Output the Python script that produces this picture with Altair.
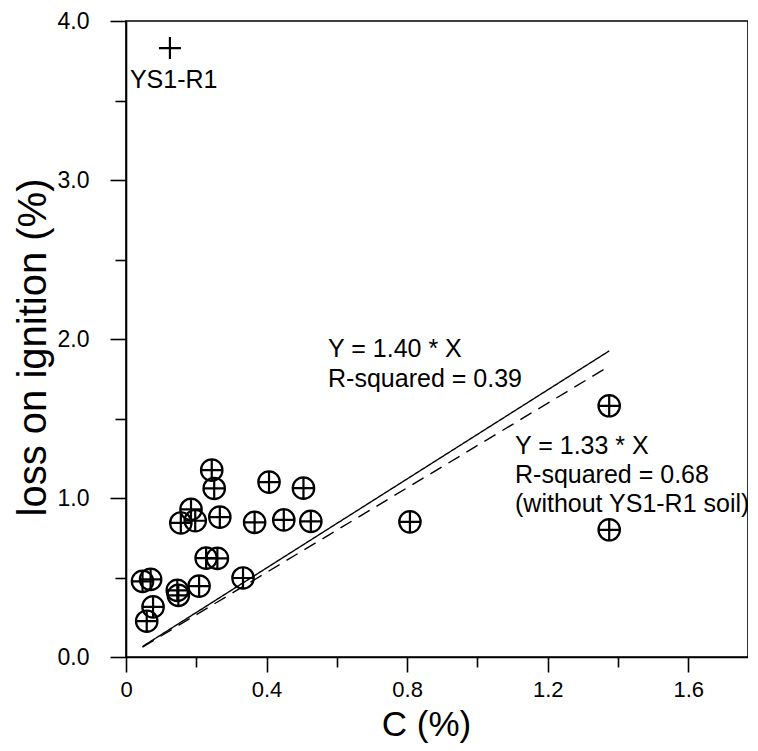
import altair as alt
import pandas as pd

# carbon (%) and loss on ignition (%) of soils
c_pct = [0.244, 0.251, 0.407, 0.505, 0.185, 0.156, 0.197, 0.267, 0.366, 0.449,
         0.526, 0.228, 0.260, 0.333, 0.047, 0.070, 0.146, 0.149, 0.208, 0.077,
         0.059, 0.808, 1.375, 1.375]
loi_pct = [1.175, 1.06, 1.10, 1.062, 0.928, 0.843, 0.857, 0.88, 0.847, 0.862,
           0.853, 0.622, 0.620, 0.497, 0.476, 0.488, 0.419, 0.388, 0.446, 0.315,
           0.225, 0.85, 1.58, 0.80]

# outlier soil
out_c = [0.125]
out_loi = [3.83]
out_name = ["YS1-R1"]

# regression slopes (through origin)
fit_names = ["with YS1-R1", "without YS1-R1"]
fit_slopes = [1.40, 1.33]

# annotation texts (anchor in data units)
ann_text = ["Y = 1.40 * X", "R-squared = 0.39",
            "Y = 1.33 * X", "R-squared = 0.68", "(without YS1-R1 soil)"]
ann_x = [0.575, 0.575, 1.107, 1.107, 1.107]
ann_y = [1.934, 1.746, 1.327, 1.146, 0.964]

FONT = "Liberation Sans"

pts = pd.DataFrame({"c": c_pct, "loi": loi_pct})
out = pd.DataFrame({"c": out_c, "loi": out_loi, "name": out_name})
xmin, xmax = min(c_pct), max(c_pct)
lines = pd.DataFrame({
    "fit": [f for f in fit_names for _ in range(2)],
    "c": [xmin, xmax] * len(fit_names),
    "loi": [s * v for s in fit_slopes for v in (xmin, xmax)],
})
ann = pd.DataFrame({"t": ann_text, "c": ann_x, "loi": ann_y})

x_scale = alt.Scale(domain=[0, 1.77], nice=False, zero=False)
y_scale = alt.Scale(domain=[0, 4.0], nice=False, zero=False)

x_axis = alt.Axis(
    title="C (%)",
    values=[round(0.2 * i, 1) for i in range(9)],
    labelExpr="round(datum.value*10) % 4 == 0 ? (datum.value == 0 ? '0' : format(datum.value, '.1f')) : ''",
    tickSize={"condition": {"test": "round(datum.value*10) % 4 == 0", "value": 15}, "value": 10},
    labelPadding=7,
    labelFontSize=22,
    labelFont=FONT,
    labelColor="black",
    labelBaseline="top",
    titleFontSize=35,
    titleFont=FONT,
    titleFontWeight="normal",
    titleColor="black",
    titleX=300,
    titleY=67,
    titleBaseline="middle",
    grid=False,
    domainColor="black",
    domainWidth=1.6,
    tickColor="black",
    tickWidth=1.6,
    labelFlush=False,
    labelOverlap=False,
)
y_axis = alt.Axis(
    title="loss on ignition (%)",
    values=[0.5 * i for i in range(9)],
    labelExpr="round(datum.value*2) % 2 == 0 ? format(datum.value, '.1f') : ''",
    tickSize={"condition": {"test": "round(datum.value*2) % 2 == 0", "value": 16}, "value": 11},
    labelPadding=21,
    labelFontSize=23,
    labelFont=FONT,
    labelColor="black",
    titleFontSize=40,
    titleFont=FONT,
    titleFontWeight="normal",
    titleColor="black",
    titleAngle=270,
    titleX=-93,
    titleY=326,
    titleAlign="center",
    titleBaseline="middle",
    grid=False,
    domainColor="black",
    domainWidth=1.6,
    tickColor="black",
    tickWidth=1.6,
    labelFlush=False,
    labelOverlap=False,
)

circle_plus = "M-1,0A1,1,0,1,1,1,0A1,1,0,1,1,-1,0ZM-1,0L1,0M0,-1L0,1"
plus = "M-1,0L1,0M0,-1L0,1"

points = alt.Chart(pts).mark_point(
    shape=circle_plus, size=460, filled=False, stroke="black", strokeWidth=2.2, opacity=1
).encode(
    x=alt.X("c:Q", scale=x_scale, axis=x_axis),
    y=alt.Y("loi:Q", scale=y_scale, axis=y_axis),
)

outlier = alt.Chart(out).mark_point(
    shape=plus, size=484, filled=False, stroke="black", strokeWidth=2.2, opacity=1
).encode(x=alt.X("c:Q", scale=x_scale), y=alt.Y("loi:Q", scale=y_scale))

outlier_lab = alt.Chart(out).mark_text(
    align="left", baseline="middle", font=FONT, fontSize=25, color="black", dx=-40, dy=32
).encode(x=alt.X("c:Q", scale=x_scale), y=alt.Y("loi:Q", scale=y_scale), text="name:N")

fit_lines = alt.Chart(lines).mark_line(color="black", strokeWidth=1.4).encode(
    x=alt.X("c:Q", scale=x_scale),
    y=alt.Y("loi:Q", scale=y_scale),
    detail="fit:N",
    strokeDash=alt.StrokeDash(
        "fit:N",
        scale=alt.Scale(domain=fit_names, range=[[1, 0], [13, 8]]),
        legend=None,
    ),
)

ann_layer = alt.Chart(ann).mark_text(
    align="left", baseline="middle", font=FONT, fontSize=25, color="black"
).encode(x=alt.X("c:Q", scale=x_scale), y=alt.Y("loi:Q", scale=y_scale), text="t:N")

chart = alt.layer(fit_lines, points, outlier, outlier_lab, ann_layer).properties(
    width=622,
    height=636,
    padding={"left": 118, "top": 13, "right": 0, "bottom": 86},
    autosize=alt.AutoSizeParams(type="none"),
    background="white",
).configure_view(stroke="black", strokeWidth=1.6)

chart.save("out.html", embed_options={"renderer": "svg", "actions": False})
